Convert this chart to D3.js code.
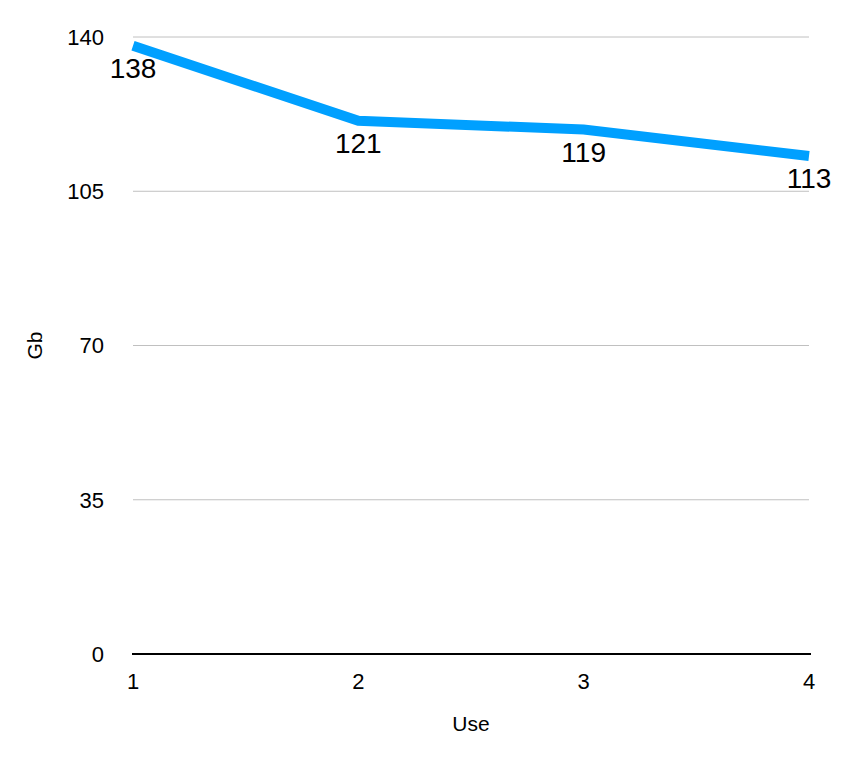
<!DOCTYPE html>
<html>
<head>
<meta charset="utf-8">
<script src="https://cdn.jsdelivr.net/npm/d3@7"></script>
<style>
  body { margin: 0; background: #fff; }
  svg text { font-family: "Liberation Sans", Arial, Helvetica, sans-serif; fill: #000; }
</style>
</head>
<body>
<div id="chart"></div>
<script>
// chart data
var uses = [1, 2, 3, 4];
var gb = [138, 121, 119, 113];
var y_ticks = [0, 35, 70, 105, 140];

var width = 848, height = 762;
var plot_left = 133, plot_right = 809, plot_top = 37, plot_bottom = 654;

var svg = d3.select("#chart").append("svg")
    .attr("width", width)
    .attr("height", height);

var x = d3.scaleLinear().domain([1, 4]).range([plot_left, plot_right]);
var y = d3.scaleLinear().domain([0, 140]).range([plot_bottom, plot_top]);

// gridlines
svg.append("g").selectAll("line")
    .data(y_ticks.filter(d => d > 0))
    .join("line")
    .attr("x1", plot_left).attr("x2", plot_right)
    .attr("y1", d => y(d)).attr("y2", d => y(d))
    .style("stroke", "#c0c0c0")
    .style("stroke-width", 1);

// y tick labels
svg.append("g").selectAll("text")
    .data(y_ticks)
    .join("text")
    .attr("x", 104)
    .attr("y", d => y(d))
    .attr("dy", "0.36em")
    .attr("text-anchor", "end")
    .style("font-size", "22px")
    .text(d => d);

// baseline
svg.append("line")
    .attr("x1", plot_left - 1).attr("x2", plot_right + 2)
    .attr("y1", y(0)).attr("y2", y(0))
    .style("stroke", "#000")
    .style("stroke-width", 2);

// x tick labels
svg.append("g").selectAll("text")
    .data(uses)
    .join("text")
    .attr("x", d => x(d))
    .attr("y", 689)
    .attr("text-anchor", "middle")
    .style("font-size", "22px")
    .text(d => d);

// axis titles
svg.append("text")
    .attr("transform", "translate(42," + ((plot_top + plot_bottom) / 2) + ") rotate(-90)")
    .attr("text-anchor", "middle")
    .style("font-size", "21px")
    .text("Gb");

svg.append("text")
    .attr("x", (plot_left + plot_right) / 2)
    .attr("y", 731)
    .attr("text-anchor", "middle")
    .style("font-size", "21px")
    .text("Use");

// the line
var pts = uses.map((u, i) => ({x: u, v: gb[i]}));
var line = d3.line().x(d => x(d.x)).y(d => y(d.v));
svg.append("path")
    .datum(pts)
    .attr("d", line)
    .style("fill", "none")
    .style("stroke", "#00a0ff")
    .style("stroke-width", 10)
    .style("stroke-linejoin", "miter");

// value labels
svg.append("g").selectAll("text")
    .data(pts)
    .join("text")
    .attr("x", d => x(d.x))
    .attr("y", d => y(d.v) + 32)
    .attr("text-anchor", "middle")
    .style("font-size", "28px")
    .text(d => d.v);
</script>
</body>
</html>
